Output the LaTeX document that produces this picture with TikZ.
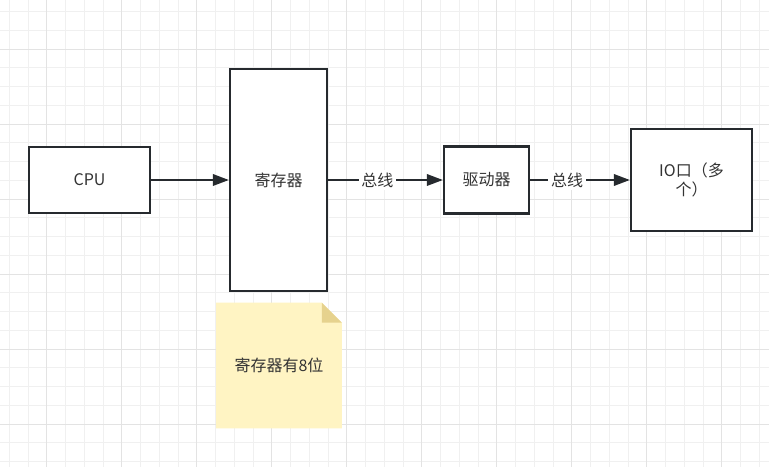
\documentclass[tikz,border=0pt]{standalone}
\usepackage{fontspec}
\setmainfont{Noto Sans CJK SC}
\usetikzlibrary{arrows.meta}
\definecolor{GridMinor}{HTML}{F0F0F0}
\definecolor{GridMajor}{HTML}{E3E3E3}
\definecolor{LineDark}{HTML}{262A2E}
\definecolor{TextDark}{HTML}{333333}
\definecolor{NoteFill}{HTML}{FFF4C3}
\definecolor{NoteFold}{HTML}{E6D28E}

\begin{document}
\begin{tikzpicture}[
  x=0.75pt, y=-0.75pt,
  font=\fontsize{12pt}{14.4pt}\selectfont,
  box/.style={draw=LineDark, line width=1.6pt, fill=white, text=TextDark, align=center, inner sep=0pt},
  arrow/.style={-{Triangle[length=12pt,width=8.5pt]}, line width=1.7pt, draw=LineDark},
  buslabel/.style={fill=white, text=TextDark, inner sep=2pt},
  notebox/.style={minimum width=93.75pt, minimum height=93.75pt, inner sep=0pt},
  minorgrid/.style={draw=GridMinor, line width=0.75pt},
  majorgrid/.style={draw=GridMajor, line width=0.75pt}
]
  \useasboundingbox (0,0) rectangle (769,467);
  \fill[white] (0,0) rectangle (769,467);

  % background grid
  \foreach \i in {0,...,40}
    \draw[minorgrid] ({9.3+18.75*\i},0) -- ({9.3+18.75*\i},467);
  \foreach \j in {0,...,24}
    \draw[minorgrid] (0,{11.7+18.75*\j}) -- (769,{11.7+18.75*\j});
  \foreach \i in {0,...,9}
    \draw[majorgrid] ({46.8+75*\i},0) -- ({46.8+75*\i},467);
  \foreach \j in {0,...,5}
    \draw[majorgrid] (0,{49.2+75*\j}) -- (769,{49.2+75*\j});

  \node[box, minimum width=90.75pt, minimum height=49.5pt] (cpu) at (89.5,180) {CPU};
  \node[box, minimum width=72.75pt, minimum height=166.5pt] (reg) at (278.5,180) {寄存器};
  \node[box, minimum width=63.75pt, minimum height=50.25pt] (drv) at (486.5,180) {驱动器};
  \node[box, minimum width=90.75pt, minimum height=76.5pt] (io) at (691.5,180) {IO口（多\\个）};

  \draw[arrow] (cpu) -- (reg);
  \draw[arrow] (reg) -- node[buslabel, pos=0.43] (bus1) {总线} (drv);
  \draw[arrow] (drv) -- node[buslabel, pos=0.37] (bus2) {总线} (io);

  % note under the register
  \node[notebox] (note) at (279,365.5) {};
  \fill[NoteFill] (note.north west) -- ([xshift=-15pt]note.north east)
    -- ([yshift=-15pt]note.north east) -- (note.south east) -- (note.south west) -- cycle;
  \fill[NoteFold] ([xshift=-15pt]note.north east) -- ([xshift=-15pt,yshift=-15pt]note.north east)
    -- ([yshift=-15pt]note.north east) -- cycle;
  \node[text=TextDark] (notetext) at (note.center) {寄存器有8位};
\end{tikzpicture}
\end{document}
